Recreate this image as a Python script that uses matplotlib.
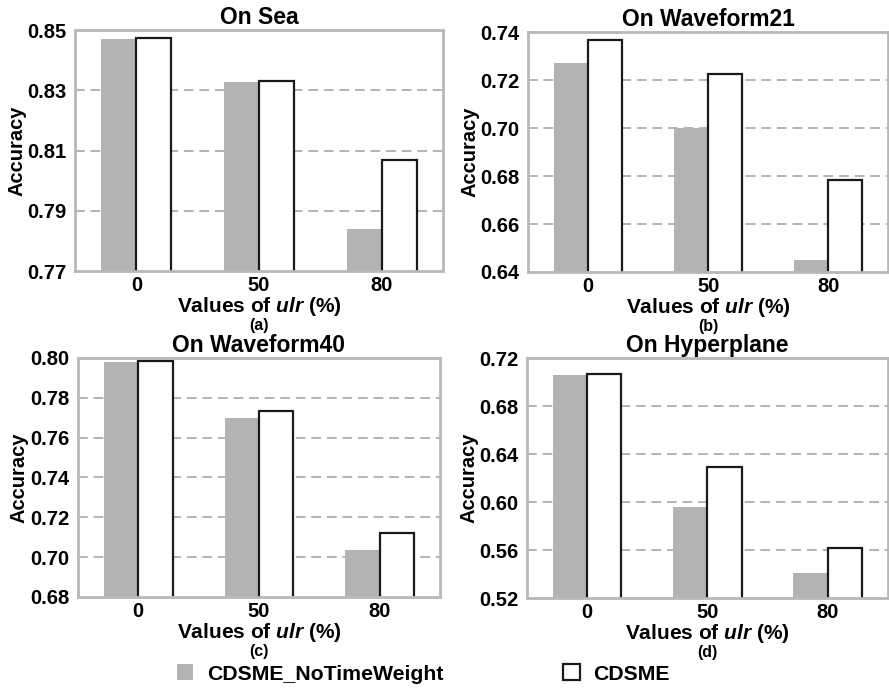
import numpy as np
import matplotlib
matplotlib.use("Agg")
from matplotlib import pyplot as plt
from matplotlib.patches import Patch

plt.rcParams["font.family"] = ["Liberation Sans", "DejaVu Sans"]
plt.rcParams["font.weight"] = "bold"
plt.rcParams["mathtext.fontset"] = "custom"
plt.rcParams["mathtext.rm"] = "Liberation Sans:bold"
plt.rcParams["mathtext.it"] = "Liberation Sans:italic:bold"

# ulr levels on the x axis
ulr_labels = ["0", "50", "80"]

# accuracy per data set: (without time weight, full CDSME)
sea_notw = [0.847, 0.8328, 0.7838]
sea_cdsme = [0.8472, 0.8332, 0.8070]

wf21_notw = [0.7271, 0.7000, 0.6451]
wf21_cdsme = [0.7365, 0.7224, 0.6784]

wf40_notw = [0.7980, 0.7700, 0.7037]
wf40_cdsme = [0.7983, 0.7735, 0.7119]

hyper_notw = [0.7056, 0.5958, 0.5406]
hyper_cdsme = [0.7064, 0.6289, 0.5620]

panels = [
    ("On Sea", "(a)", sea_notw, sea_cdsme, [0.77, 0.79, 0.81, 0.83, 0.85]),
    ("On Waveform21", "(b)", wf21_notw, wf21_cdsme, [0.64, 0.66, 0.68, 0.70, 0.72, 0.74]),
    ("On Waveform40", "(c)", wf40_notw, wf40_cdsme, [0.68, 0.70, 0.72, 0.74, 0.76, 0.78, 0.80]),
    ("On Hyperplane", "(d)", hyper_notw, hyper_cdsme, [0.52, 0.56, 0.60, 0.64, 0.68, 0.72]),
]

# axes boxes in figure fractions [left, bottom, width, height]
boxes = [
    [0.0844, 0.6072, 0.4140, 0.3493],
    [0.5940, 0.6058, 0.4050, 0.3478],
    [0.0877, 0.1348, 0.4072, 0.3464],
    [0.5928, 0.1333, 0.4060, 0.3478],
]

GREY = "#b3b3b3"
FRAME = "#b8b8b8"
width = 0.285

fig = plt.figure(figsize=(8.89, 6.90), dpi=100)

for (title, tag, notw, cdsme, yticks), box in zip(panels, boxes):
    ax = fig.add_axes(box)
    x = np.arange(len(ulr_labels))
    ax.bar(x - width / 2, notw, width, color=GREY, edgecolor="none", zorder=2)
    ax.bar(x + width / 2, cdsme, width, color="white", edgecolor="#1a1a1a",
           linewidth=1.6, zorder=3)

    ax.set_xlim(-0.5, 2.5)
    ax.set_ylim(yticks[0], yticks[-1])
    ax.set_xticks(x)
    ax.set_xticklabels(ulr_labels)
    ax.set_yticks(yticks)
    ax.set_yticklabels([f"{v:.2f}" for v in yticks])
    ax.tick_params(length=0, labelsize=14.5)
    ax.tick_params(axis="y", pad=6)
    ax.tick_params(axis="x", pad=3.5)

    for v in yticks[1:-1]:
        ax.axhline(v, color=GREY, linestyle=(0, (5, 3)), linewidth=1.4, zorder=1)

    for s in ax.spines.values():
        s.set_color(FRAME)
        s.set_linewidth(2.0)
        s.set_zorder(4)

    ax.set_title(title, fontsize=16.5, fontweight="bold", pad=4)
    ax.set_ylabel("Accuracy", fontsize=14.5, fontweight="bold", labelpad=1)
    ax.set_xlabel("Values of $\\mathit{ulr}$ (%)", fontsize=15, fontweight="bold")
    ax.xaxis.set_label_coords(0.5, -0.1)
    ax.xaxis.label.set_va("top")
    ax.text(0.5, -0.226, tag, transform=ax.transAxes, ha="center", va="center",
            fontsize=11.5, fontweight="bold")

handles = [
    Patch(facecolor=GREY, edgecolor="none", label="CDSME_NoTimeWeight"),
    Patch(facecolor="white", edgecolor="#1a1a1a", linewidth=1.6, label="CDSME"),
]
fig.legend(handles=handles, loc="center left", bbox_to_anchor=(0.199, 0.023),
           ncol=2, frameon=False, fontsize=15.3, handlelength=0.78, handleheight=0.78,
           handletextpad=0.62, columnspacing=5.65, borderpad=0, borderaxespad=0)

fig.savefig("out.png", dpi=100)
